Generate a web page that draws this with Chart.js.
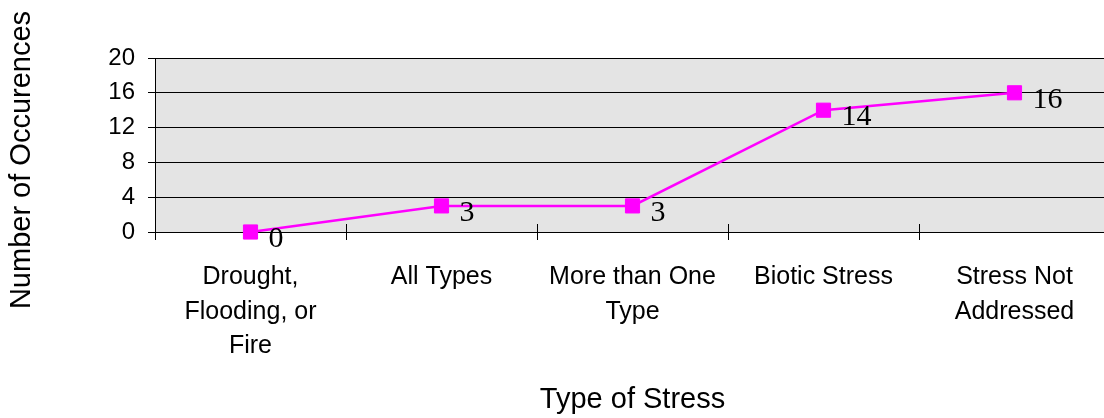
<!DOCTYPE html>
<html>
<head>
<meta charset="utf-8">
<script src="https://cdn.jsdelivr.net/npm/chart.js@4/dist/chart.umd.min.js"></script>
<style>
  html, body { margin: 0; padding: 0; background: #fff; overflow: hidden; width: 1104px; height: 418px; }
  #wrap { width: 1104px; height: 418px; overflow: hidden; position: relative; }
  #c { display: block; width: 1112px; height: 418px; position: absolute; left: 0; top: 0; }
</style>
</head>
<body>
<div id="wrap"><canvas id="c" width="1112" height="418"></canvas></div>
<script>
// ---- data ----
const categories = [
  ['Drought,', 'Flooding, or', 'Fire'],
  'All Types',
  ['More than One', 'Type'],
  'Biotic Stress',
  ['Stress Not', 'Addressed']
];
const occurrences = [0, 3, 3, 14, 16];
const yTicks = [0, 4, 8, 12, 16, 20];
const xTitle = 'Type of Stress';
const yTitle = 'Number of Occurences';

const SANS = '"Liberation Sans", Arial, sans-serif';
const SERIF = '"Liberation Serif", "Times New Roman", serif';

const bgPlugin = {
  id: 'plotBg',
  beforeDraw(chart) {
    const a = chart.chartArea, ctx = chart.ctx;
    ctx.save();
    ctx.fillStyle = '#e4e4e4';
    ctx.fillRect(a.left, a.top, a.right - a.left, a.bottom - a.top);
    ctx.restore();
  }
};

const extrasPlugin = {
  id: 'extras',
  afterDraw(chart) {
    const ctx = chart.ctx;
    const xs = chart.scales.x;
    const a = chart.chartArea;
    ctx.save();
    // inner half of crossing tick marks on x axis
    ctx.strokeStyle = '#000';
    ctx.lineWidth = 1;
    const n = xs.getLabels().length;
    for (let i = 1; i < n; i++) {
      const x = Math.round(xs.left + i * (xs.width / n)) + 0.5;
      ctx.beginPath();
      ctx.moveTo(x, a.bottom - 8);
      ctx.lineTo(x, a.bottom);
      ctx.stroke();
    }
    // y axis title
    ctx.fillStyle = '#000';
    ctx.font = '29px ' + SANS;
    ctx.textAlign = 'center';
    ctx.textBaseline = 'middle';
    ctx.translate(22, 160);
    ctx.rotate(-Math.PI / 2);
    ctx.fillText(yTitle, 0, 0);
    ctx.restore();
  },
  afterDatasetsDraw(chart) {
    const ctx = chart.ctx;
    const meta = chart.getDatasetMeta(0);
    ctx.save();
    ctx.fillStyle = '#000';
    ctx.font = '30px ' + SERIF;
    ctx.textAlign = 'left';
    ctx.textBaseline = 'alphabetic';
    meta.data.forEach((pt, i) => {
      ctx.fillText(String(chart.data.datasets[0].data[i]), pt.x + 18, pt.y + 15);
    });
    ctx.restore();
  }
};

new Chart(document.getElementById('c'), {
  type: 'line',
  data: {
    labels: categories,
    datasets: [{
      data: occurrences,
      borderColor: '#ff00ff',
      backgroundColor: '#ff00ff',
      borderWidth: 2.5,
      pointStyle: 'rect',
      pointRadius: 10,
      pointHoverRadius: 10,
      pointBorderWidth: 1,
      pointBorderColor: '#ff00ff',
      pointBackgroundColor: '#ff00ff',
      tension: 0,
      clip: false
    }]
  },
  options: {
    responsive: false,
    maintainAspectRatio: false,
    devicePixelRatio: 1,
    animation: false,
    events: [],
    layout: { autoPadding: false, padding: { top: 58, right: 2, bottom: 0, left: 0 } },
    plugins: {
      legend: { display: false },
      tooltip: { enabled: false },
      title: { display: false }
    },
    scales: {
      x: {
        type: 'category',
        offset: true,
        grid: {
          display: true,
          offset: true,
          drawOnChartArea: false,
          drawTicks: true,
          tickLength: 8,
          color: '#000',
          lineWidth: 1
        },
        border: { display: true, color: '#000', width: 1 },
        ticks: {
          color: '#000',
          font: { family: SANS, size: 25, lineHeight: 1.38 },
          padding: 20,
          maxRotation: 0,
          minRotation: 0,
          autoSkip: false
        },
        title: {
          display: true,
          text: xTitle,
          color: '#000',
          font: { family: SANS, size: 29, lineHeight: 1.2 },
          padding: { top: 0, bottom: 1 }
        },
        afterFit(scale) { scale.height = 186; }
      },
      y: {
        min: 0,
        max: 20,
        afterBuildTicks(scale) { scale.ticks = yTicks.map(v => ({ value: v })); },
        grid: {
          display: true,
          color: '#000',
          lineWidth: 1,
          drawTicks: true,
          tickLength: 7
        },
        border: { display: true, color: '#000', width: 1 },
        ticks: {
          color: '#000',
          font: { family: SANS, size: 24 },
          padding: 13
        },
        title: { display: false },
        afterFit(scale) { scale.width = 155; }
      }
    }
  },
  plugins: [bgPlugin, extrasPlugin]
});
</script>
</body>
</html>
